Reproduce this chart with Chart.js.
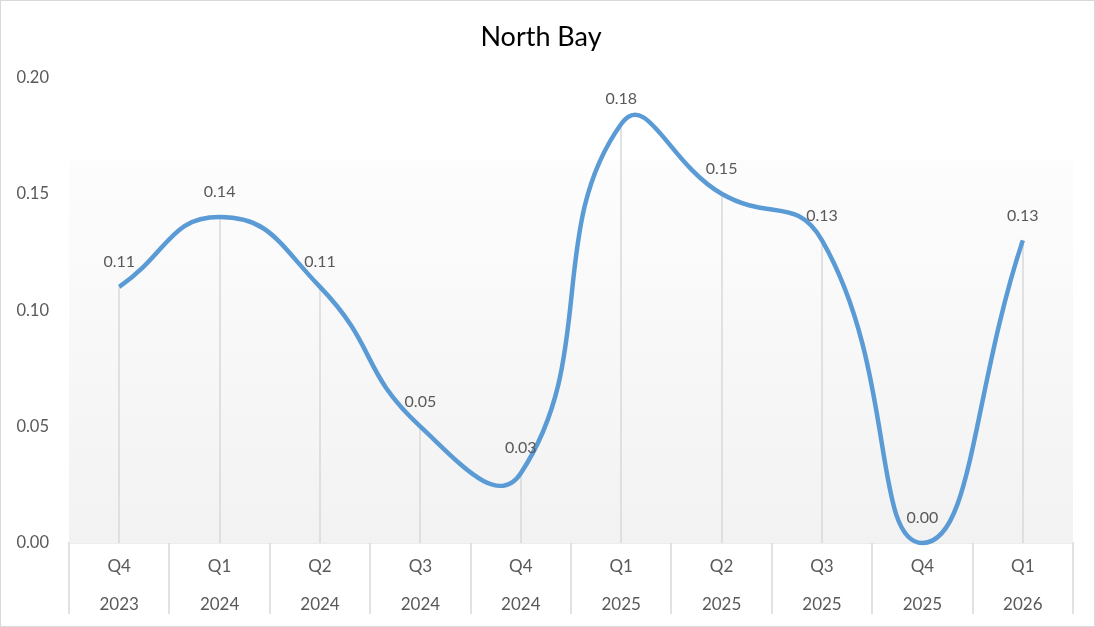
<!DOCTYPE html>
<html>
<head>
<meta charset="utf-8">
<script src="https://cdn.jsdelivr.net/npm/chart.js@4/dist/chart.umd.min.js"></script>
<style>
html,body{margin:0;padding:0;background:#fff;}
#wrap{width:1093px;height:625px;border:1px solid #d9d9d9;position:relative;}
canvas{display:block;}
</style>
</head>
<body>
<div id="wrap"><canvas id="c"></canvas></div>
<script>
const quarters = ['Q4','Q1','Q2','Q3','Q4','Q1','Q2','Q3','Q4','Q1'];
const years = ['2023','2024','2024','2024','2024','2025','2025','2025','2025','2026'];
const values = [0.11, 0.14, 0.11, 0.05, 0.03, 0.18, 0.15, 0.13, 0.00, 0.13];
const yTicks = [0, 0.05, 0.10, 0.15, 0.20];

const FONT = 'Lato, "Open Sans", sans-serif';
const labels = quarters.map((q, i) => [q, years[i]]);

const decor = {
  id: 'decor',
  beforeDatasetsDraw(chart) {
    const {ctx, chartArea: a, scales} = chart;
    const y = scales.y;
    const top = y.getPixelForValue(0.165);
    const g = ctx.createLinearGradient(0, top, 0, a.bottom);
    g.addColorStop(0, '#fdfdfd');
    g.addColorStop(1, '#f2f2f2');
    ctx.save();
    ctx.fillStyle = g;
    ctx.fillRect(a.left, top, a.right - a.left, a.bottom - top);
    const meta = chart.getDatasetMeta(0);
    ctx.strokeStyle = '#d9d9d9';
    ctx.lineWidth = 1.5;
    meta.data.forEach(p => {
      ctx.beginPath();
      ctx.moveTo(Math.round(p.x), p.y);
      ctx.lineTo(Math.round(p.x), a.bottom);
      ctx.stroke();
    });
    ctx.restore();
  },
  afterDatasetsDraw(chart) {
    const {ctx} = chart;
    const meta = chart.getDatasetMeta(0);
    const ds = chart.data.datasets[0].data;
    ctx.save();
    ctx.font = '16px ' + FONT;
    ctx.fillStyle = '#595959';
    ctx.textAlign = 'center';
    ctx.textBaseline = 'middle';
    meta.data.forEach((p, i) => {
      ctx.fillText(ds[i].toFixed(2), p.x, p.y - 25);
    });
    ctx.restore();
  },
  afterDraw(chart) {
    const {ctx, chartArea: a, scales} = chart;
    const x = scales.x;
    const n = chart.data.labels.length;
    ctx.save();
    ctx.strokeStyle = '#d9d9d9';
    ctx.lineWidth = 1.5;
    for (let i = 0; i <= n; i++) {
      let px;
      if (i === 0) px = a.left;
      else if (i === n) px = a.right;
      else px = (x.getPixelForValue(i - 1) + x.getPixelForValue(i)) / 2;
      px = Math.round(px);
      ctx.beginPath();
      ctx.moveTo(px, a.bottom);
      ctx.lineTo(px, a.bottom + 71);
      ctx.stroke();
    }
    ctx.restore();
  }
};

new Chart(document.getElementById('c'), {
  type: 'line',
  data: {
    labels: labels,
    datasets: [{
      data: values,
      borderColor: '#5b9bd5',
      borderWidth: 4.5,
      pointRadius: 0,
      tension: 0.5,
      fill: false,
      clip: false
    }]
  },
  options: {
    responsive: true,
    maintainAspectRatio: false,
    animation: false,
    layout: {padding: {left: 8, right: 21, top: 0, bottom: 0}},
    plugins: {
      legend: {display: false},
      tooltip: {enabled: false},
      title: {
        display: true,
        text: 'North Bay',
        color: '#000000',
        font: {family: FONT, size: 27, weight: 'normal'},
        padding: {top: 20, bottom: 24}
      }
    },
    scales: {
      x: {
        offset: true,
        afterFit(scale) { scale.height = 83; },
        border: {display: true, color: '#d9d9d9', width: 1.5},
        grid: {display: false},
        ticks: {
          color: '#595959',
          font: {family: FONT, size: 17, lineHeight: 2.22},
          padding: -3,
          maxRotation: 0,
          minRotation: 0,
          autoSkip: false
        }
      },
      y: {
        min: 0,
        max: 0.2,
        afterFit(scale) { scale.width = 60; },
        afterBuildTicks(scale) { scale.ticks = yTicks.map(v => ({value: v})); },
        border: {display: false},
        grid: {display: false},
        ticks: {
          color: '#595959',
          font: {family: FONT, size: 16.5},
          padding: 12,
          callback: v => Number(v).toFixed(2)
        }
      }
    }
  },
  plugins: [decor]
});
</script>
</body>
</html>
